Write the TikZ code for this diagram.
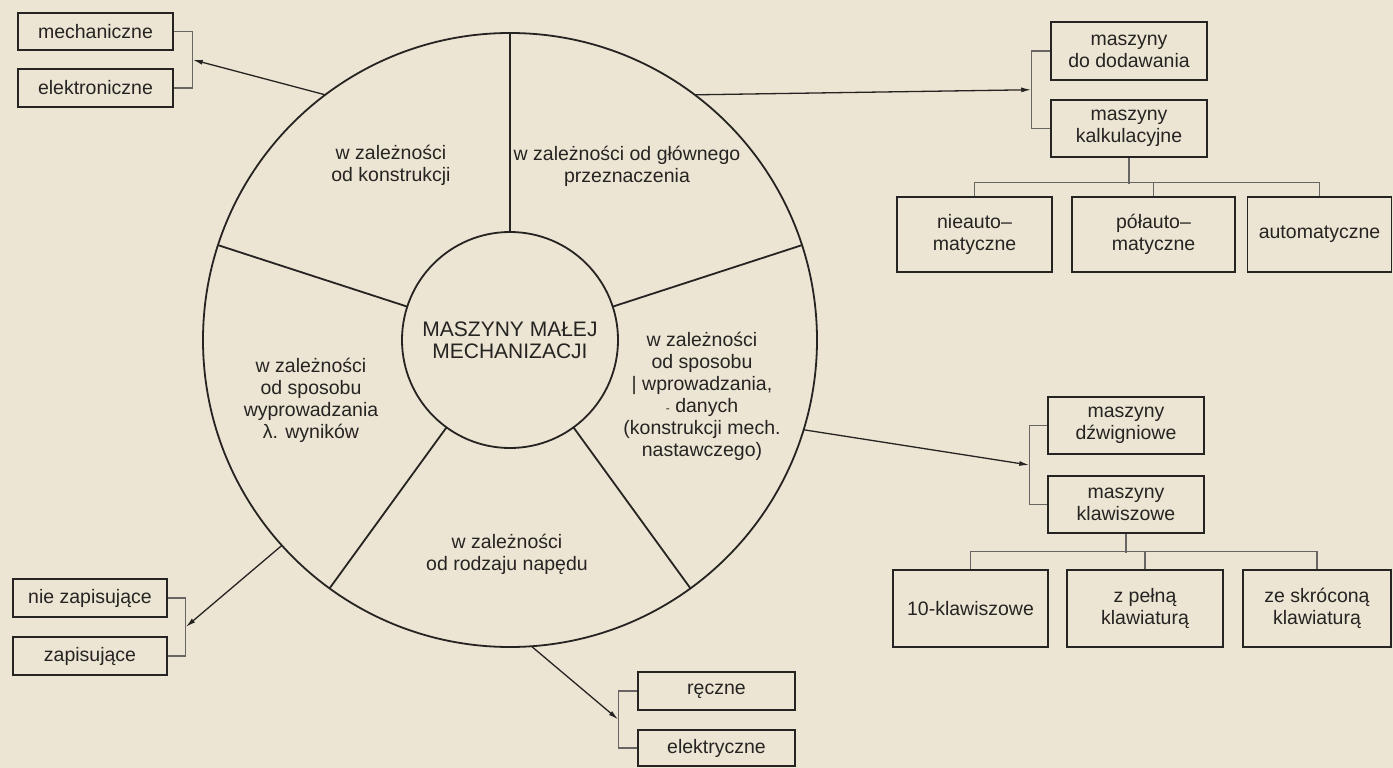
\documentclass[tikz,border=0pt]{standalone}
\usepackage{fontspec}
\setmainfont{Liberation Sans}
\usetikzlibrary{arrows.meta,calc}
\definecolor{paper}{RGB}{236,229,211}
\definecolor{ink}{RGB}{38,36,34}
\tikzset{
	card/.style={draw=ink, line width=1.5pt, align=center, inner sep=0pt, text=ink,
			font=\fontsize{19.5}{22}\selectfont},
	sector/.style={align=center, text=ink, font=\fontsize{19.5}{22}\selectfont},
	brace/.style={draw=ink!70, line width=1.2pt},
	pointer/.style={draw=ink, line width=1.3pt, -{Latex[length=10pt,width=5pt]}},
	ring/.style={draw=ink, line width=1.8pt, circle, inner sep=0pt, outer sep=0pt}
}

\begin{document}
\begin{tikzpicture}[x=1pt,y=-1pt]
	\fill [paper] (0,0) rectangle (1393,768);
	\useasboundingbox (0,0) rectangle (1393,768);

	\node [ring, minimum size=614pt] (outer) at (510,340) {};
	\node [ring, minimum size=216pt, align=center, text=ink,
		font=\fontsize{21}{22}\selectfont] (hub) at (510,340) {MASZYNY MAŁEJ\\MECHANIZACJI};
	\foreach \a in {18,90,162,234,306}
		\draw [ink, line width=1.8pt] (hub.\a) -- (outer.\a);

	\node [sector] (konstr) at (391,165) {w zależności\\od konstrukcji};
	\node [sector] (glown) at (627,166) {w zależności od głównego\\przeznaczenia};
	\node [sector] (wprow) at (702,396) {w zależności\\od sposobu\\| wprowadzania,\\{\fontsize{12}{12}\selectfont -}~danych\\(konstrukcji mech.\\nastawczego)};
	\node [sector] (napedu) at (507,554) {w zależności\\od rodzaju napędu};
	\node [sector] (wyprow) at (311,400) {w zależności\\od sposobu\\wyprowadzania\\λ. wyników};

	\node [card, minimum width=155pt, minimum height=37pt] (mech) at (95.5,31.5) {mechaniczne};
	\node [card, minimum width=155pt, minimum height=38pt] (elek) at (95.5,88) {elektroniczne};

	\node [card, minimum width=156pt, minimum height=58pt] (dodaw) at (1129,51) {maszyny\\do dodawania};
	\node [card, minimum width=156pt, minimum height=57pt] (kalk) at (1129,128.5) {maszyny\\kalkulacyjne};
	\node [card, minimum width=155pt, minimum height=75pt] (nieauto) at (974.5,234.5) {nieauto--\\matyczne};
	\node [card, minimum width=163pt, minimum height=75pt] (polauto) at (1153.5,234.5) {półauto--\\matyczne};
	\node [card, minimum width=144pt, minimum height=75pt] (autom) at (1319.5,234.5) {automatyczne};

	\node [card, minimum width=156pt, minimum height=57pt] (dzwig) at (1126,425.5) {maszyny\\dźwigniowe};
	\node [card, minimum width=156pt, minimum height=57pt] (klaw) at (1126,504.5) {maszyny\\klawiszowe};
	\node [card, minimum width=155pt, minimum height=77pt] (dziesiec) at (970.5,608.5) {10-klawiszowe};
	\node [card, minimum width=156pt, minimum height=77pt] (pelna) at (1145,608.5) {z pełną\\klawiaturą};
	\node [card, minimum width=148pt, minimum height=77pt] (skroc) at (1317,608.5) {ze skróconą\\klawiaturą};

	\node [card, minimum width=154pt, minimum height=38pt] (niezap) at (90,598) {nie zapisujące};
	\node [card, minimum width=154pt, minimum height=38pt] (zap) at (90,656) {zapisujące};

	\node [card, minimum width=157pt, minimum height=38pt] (reczne) at (716.5,691) {ręczne};
	\node [card, minimum width=157pt, minimum height=36pt] (elektr) at (716.5,748) {elektryczne};

	\coordinate (konstrin) at ($(mech.east)!0.5!(elek.east)+(19,0)$);
	\coordinate (glownin) at ($(dodaw.west)!0.5!(kalk.west)+(-19,0)$);
	\coordinate (wprowin) at ($(dzwig.west)!0.5!(klaw.west)+(-18,0)$);
	\coordinate (napedin) at ($(reczne.west)!0.5!(elektr.west)+(-19,0)$);
	\coordinate (wyprowin) at ($(niezap.east)!0.5!(zap.east)+(18,0)$);

	\draw [brace] (mech.east) -| (konstrin) |- (elek.east);
	\draw [brace] (dodaw.west) -| (glownin) |- (kalk.west);
	\draw [brace] (dzwig.west) -| (wprowin) |- (klaw.west);
	\draw [brace] (reczne.west) -| (napedin) |- (elektr.west);
	\draw [brace] (niezap.east) -| (wyprowin) |- (zap.east);

	\draw [brace] (kalk.south) -- ++(0,26);
	\draw [brace] (nieauto.north) -- ++(0,-14) -| (autom.north);
	\draw [brace] (polauto.north) -- ++(0,-14);
	\draw [brace] (klaw.south) -- ++(0,19);
	\draw [brace] (dziesiec.north) -- ++(0,-18) -| (skroc.north);
	\draw [brace] (pelna.north) -- ++(0,-18);

	\draw [pointer] (outer.127) -- (konstrin);
	\draw [pointer] (outer.53) -- (glownin);
	\draw [pointer] (outer.343.4) -- (wprowin);
	\draw [pointer] (outer.274) -- (napedin);
	\draw [pointer] (outer.222) -- (wyprowin);
\end{tikzpicture}
\end{document}
